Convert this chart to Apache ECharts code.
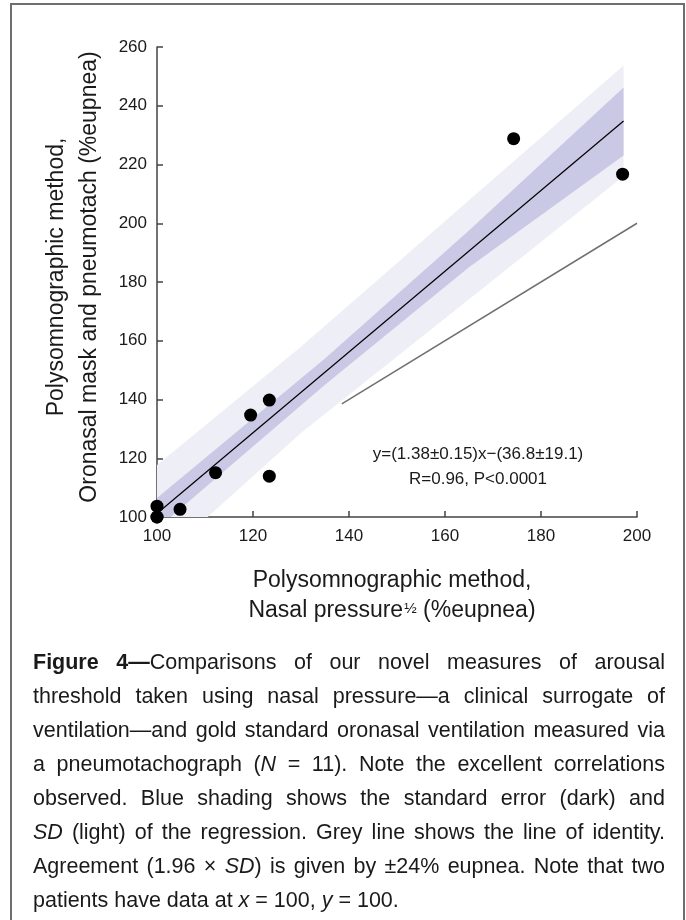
<!DOCTYPE html>
<html>
<head>
<meta charset="utf-8">
<title>Figure 4</title>
<script src="https://cdn.jsdelivr.net/npm/echarts@6/dist/echarts.min.js"></script>
<style>
  html, body { margin: 0; padding: 0; background: #fff; }
  #page { position: relative; width: 686px; height: 920px; overflow: hidden; }
  #chart { position: absolute; left: 0; top: 0; width: 686px; height: 640px; }
  #frame { position: absolute; left: 10px; top: 3px; width: 671px; height: 960px; border: 2px solid #6e6e6e; }
  #caption {
    position: absolute; left: 33px; top: 645px; width: 632px;
    font-family: "Liberation Sans", Arial, sans-serif; font-size: 21.5px; line-height: 34px; color: #1a1a1a;
  }
  #caption div { text-align: justify; text-align-last: justify; }
  #caption div.last { text-align-last: left; }
</style>
</head>
<body>
<div id="page">
  <div id="chart"></div>
  <div id="frame"></div>
  <div id="caption">
    <div><b>Figure 4—</b>Comparisons of our novel measures of arousal</div>
    <div>threshold taken using nasal pressure—a clinical surrogate of</div>
    <div>ventilation—and gold standard oronasal ventilation measured via</div>
    <div>a pneumotachograph (<i>N</i> = 11). Note the excellent correlations</div>
    <div>observed. Blue shading shows the standard error (dark) and</div>
    <div><i>SD</i> (light) of the regression. Grey line shows the line of identity.</div>
    <div>Agreement (1.96 × <i>SD</i>) is given by ±24% eupnea. Note that two</div>
    <div class="last">patients have data at <i>x</i> = 100, <i>y</i> = 100.</div>
  </div>
</div>
<script>
// measured points, %eupnea (two patients sit at 100,100)
var nasalPressure = [100, 100, 100, 104.8, 112.2, 119.5, 123.4, 123.4, 174.3, 197.0];
var pneumotach = [100, 100, 103.7, 102.6, 115.1, 134.7, 139.8, 113.9, 228.8, 216.7];

// regression line, as drawn
var fitX = [100, 197.2];
var fitY = [101.2, 234.8];

// line of identity, as drawn
var identityX = [138.5, 200];
var identityY = [138.5, 200];

// SD band (light)
var sdX = [100, 130, 197.2];
var sdUpper = [117.7, 158.0, 253.7];
var sdLower = [84.5, 128.6, 216.0];

// standard error band (dark)
var seX = [100, 135, 165, 197.2];
var seUpper = [106.5, 154.0, 197.5, 246.2];
var seLower = [96.0, 145.0, 185.0, 223.1];

// axes
var xMin = 100, xMax = 200, xStep = 20;
var yMin = 100, yMax = 260, yStep = 20;

var font = '"Liberation Sans", Arial, sans-serif';

function pairs(xs, ys) {
    return xs.map(function (x, i) { return [x, ys[i]]; });
}

// one filled polygon: upper edge left->right, lower edge right->left
function band(xs, lo, hi, color) {
    return {
        type: 'custom',
        data: [[xs[0], hi[0]]],
        clip: true,
        silent: true,
        z: 1,
        renderItem: function (params, api) {
            var pts = [];
            xs.forEach(function (x, i) { pts.push(api.coord([x, hi[i]])); });
            for (var i = xs.length - 1; i >= 0; i--) pts.push(api.coord([xs[i], lo[i]]));
            return { type: 'polygon', shape: { points: pts }, style: { fill: color } };
        }
    };
}

var axisCommon = {
    type: 'value',
    axisLine: { show: true, lineStyle: { color: '#444', width: 1.5 } },
    axisTick: { show: true, inside: true, length: 6, lineStyle: { color: '#444', width: 1.5 } },
    splitLine: { show: false },
    axisLabel: { color: '#1a1a1a', fontSize: 17, fontFamily: font },
    nameLocation: 'middle',
    nameTextStyle: { color: '#1a1a1a', fontSize: 23, fontFamily: font }
};

var chart = echarts.init(document.getElementById('chart'), null, { renderer: 'canvas' });

chart.setOption({
    animation: false,
    grid: { left: 157, top: 47, width: 480, height: 470 },
    xAxis: echarts.util.merge({
        min: xMin, max: xMax, interval: xStep,
        axisLabel: { margin: 11 },
        name: 'Polysomnographic method,\nNasal pressure{sup|½} (%eupnea)',
        nameGap: 49,
        nameTextStyle: {
            lineHeight: 30, padding: [0, 10, 0, 0],
            rich: { sup: { fontSize: 15, fontFamily: font, color: '#1a1a1a', verticalAlign: 'top', padding: [5, 0, 0, 1] } }
        }
    }, axisCommon),
    yAxis: echarts.util.merge({
        min: yMin, max: yMax, interval: yStep,
        axisLabel: { margin: 10 },
        name: 'Polysomnographic method,\nOronasal mask and pneumotach (%eupnea)',
        nameRotate: 90,
        nameGap: 51,
        nameTextStyle: { lineHeight: 33, padding: [0, 0, 0, 10] }
    }, axisCommon),
    graphic: [{
        type: 'text',
        x: 478, y: 467,
        style: {
            text: 'y=(1.38±0.15)x−(36.8±19.1)\nR=0.96, P<0.0001',
            align: 'center', verticalAlign: 'middle', lineHeight: 25,
            font: '17px ' + font, fill: '#1a1a1a'
        }
    }],
    series: [
        band(sdX, sdLower, sdUpper, '#eeeef6'),
        band(seX, seLower, seUpper, '#c9c9e5'),
        {
            type: 'line', data: pairs(identityX, identityY), symbol: 'none',
            lineStyle: { color: '#707070', width: 1.5 }, silent: true, z: 3
        },
        {
            type: 'line', data: pairs(fitX, fitY), symbol: 'none',
            lineStyle: { color: '#000', width: 1.2 }, silent: true, z: 4
        },
        {
            type: 'scatter', data: pairs(nasalPressure, pneumotach),
            symbol: 'circle', symbolSize: 13, clip: false,
            itemStyle: { color: '#000', opacity: 1 }, z: 5
        }
    ]
});
</script>
</body>
</html>
